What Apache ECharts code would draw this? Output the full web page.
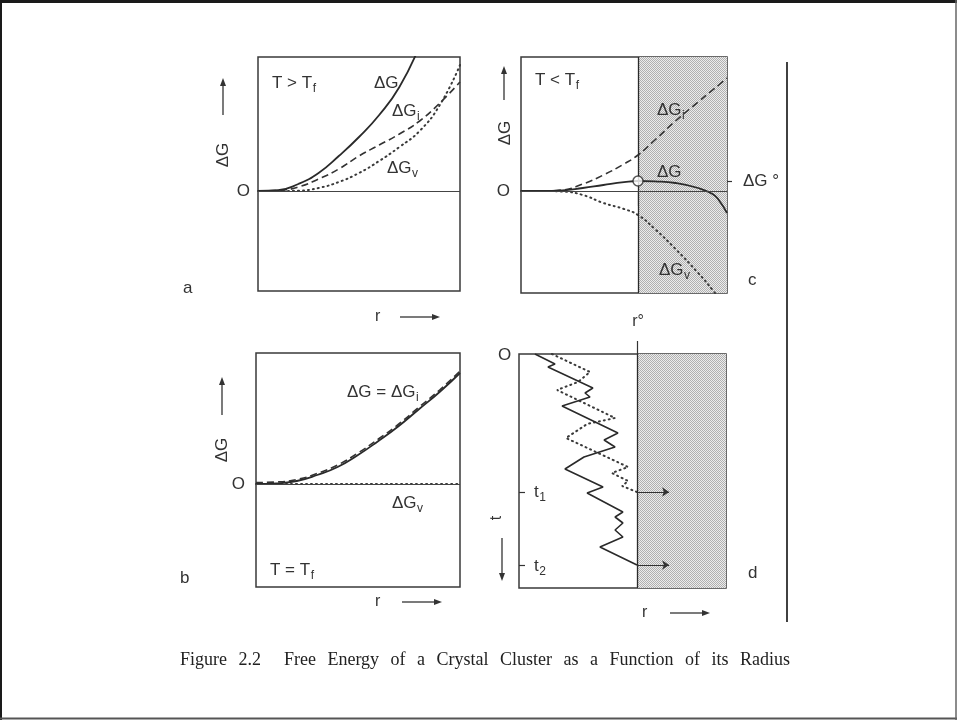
<!DOCTYPE html>
<html>
<head>
<meta charset="UTF-8">
<title>Free Energy of a Crystal Cluster</title>
<style>html,body{margin:0;padding:0;background:#fff;}</style>
</head>
<body>
<div id="main" style="width:957px;height:720px;"></div>
<script src="https://cdn.jsdelivr.net/npm/echarts@6/dist/echarts.min.js"></script>
<script>
// ---- data (r scaled 0..1, energies in arbitrary units) ----
// panel a : T > Tf
var rA   = [0, 0.1, 0.2, 0.3, 0.4, 0.5, 0.6, 0.7, 0.8, 0.9, 1.0];
var gA   = [0, 0.8, 7, 18, 35, 54, 76, 104, 145];          // ΔG (leaves the box at top)
var giA  = [0, 0.5, 4, 12, 22, 35, 46, 57, 70, 88, 109];   // ΔGi
var gvA  = [0, 0, 0.3, 3, 9, 18, 30, 44, 60, 86, 126];     // ΔGv

// panel b : T = Tf
var rB   = [0, 0.1, 0.2, 0.3, 0.4, 0.5, 0.6, 0.7, 0.8, 0.9, 1.0];
var gB   = [0, 0.5, 3, 9, 17, 29, 43, 58, 75, 92, 111];
var giB  = [1.5, 2, 4.5, 10.5, 19, 31, 45, 60, 77, 94, 113];
var gvB  = [0, 0, 0, 0, 0, 0, 0, 0, 0, 0, 0];

// panel c : T < Tf
var rC   = [0, 0.1, 0.2, 0.3, 0.4, 0.5, 0.568, 0.65, 0.75, 0.86, 0.93, 0.96, 1.0];
var gC   = [0, 0, 0.5, 3, 6, 8.8, 10, 9.6, 8, 3, -3, -9, -22];
var giC  = [0, 0, 1, 7, 16, 27, 36, 51, 70, 89, 101, 106, 113];
var gvC  = [0, 0, -0.5, -4, -12, -18, -24, -38, -58, -82, -99, -108, -130];
var rCrit = 0.568;   // r°
var gCrit = 10;      // ΔG°

// panel d : random walk of cluster size in time (t downwards)
var rWalk   = [0.077, 0.174, 0.140, 0.357, 0.319, 0.343, 0.208, 0.478, 0.411, 0.464, 0.314,
               0.222, 0.406, 0.329, 0.502, 0.464, 0.502, 0.464, 0.502, 0.391, 0.570];
var tWalk   = [0, 10, 13, 34, 39, 43, 52, 79, 86, 93, 103, 115, 133, 139, 158, 163, 169, 176, 183, 193, 211];
var rWalk2  = [0.159, 0.343, 0.285, 0.184, 0.464, 0.329, 0.227, 0.527, 0.449, 0.527, 0.498, 0.570];
var tWalk2  = [0, 18, 28, 36, 64, 70, 84, 113, 119, 127, 132, 138];
var rCritD = 0.57, rArrow = 0.725;
var t1 = 138, t2 = 211;

var capWords = ['Figure', '2.2', 'Free', 'Energy', 'of', 'a', 'Crystal', 'Cluster', 'as', 'a', 'Function', 'of', 'its', 'Radius'];

// ---- styles ----
var INK = '#333';
var FONT = '"Liberation Sans", Arial, sans-serif';
var SERIF = '"Liberation Serif", "Times New Roman", serif';
var SOLID = {color: '#2a2a2a', width: 1.8, type: 'solid'};
var DASH  = {color: '#333', width: 1.6, type: [7, 4]};
var DOT   = {color: '#3a3a3a', width: 2, type: [1, 4], cap: 'round'};

function pairs(xs, ys) { return ys.map(function (y, i) { return [xs[i], y]; }); }

// dotted grey screen for the region r > r°
var pc = document.createElement('canvas');
pc.width = 2; pc.height = 2;
var pg = pc.getContext('2d');
pg.fillStyle = '#ececec'; pg.fillRect(0, 0, 2, 2);
pg.fillStyle = '#b0b0b0'; pg.fillRect(0, 0, 1, 1); pg.fillRect(1, 1, 1, 1);
var SCREEN = {image: pc, repeat: 'repeat'};

var mctx = document.createElement('canvas').getContext('2d');
function measure(s, size, fam) { mctx.font = size + 'px ' + (fam || FONT); return mctx.measureText(s).width; }

function txt(x, y, s, size, extra) {
  var el = {type: 'text', x: x, y: y, z: 50,
    style: {text: s, fontSize: size, fontFamily: FONT, fill: INK,
            textAlign: 'left', align: 'left', textVerticalAlign: 'middle', verticalAlign: 'middle'}};
  if (extra) {
    for (var k in extra) {
      if (k === 'style') { for (var j in extra.style) el.style[j] = extra.style[j]; }
      else el[k] = extra[k];
    }
  }
  return el;
}
function sublabel(x, y, main, sub, size) {
  var w = measure(main, size);
  return [txt(x, y, main, size), txt(x + w + 0.5, y + size * 0.32, sub, Math.round(size * 0.68))];
}
function rotated(x, y, s, size) {
  return txt(x, y, s, size, {rotation: Math.PI / 2, style: {textAlign: 'center', align: 'center'}});
}
function arrow(x1, y1, x2, y2) {
  var dx = x2 - x1, dy = y2 - y1, L = Math.sqrt(dx * dx + dy * dy), ux = dx / L, uy = dy / L;
  var hl = 8, hw = 3;
  var bx = x2 - ux * hl, by = y2 - uy * hl;
  return [
    {type: 'line', z: 50, shape: {x1: x1, y1: y1, x2: bx, y2: by}, style: {stroke: INK, lineWidth: 1.3}},
    {type: 'polygon', z: 50, shape: {points: [[x2, y2], [bx - uy * hw, by + ux * hw], [bx + uy * hw, by - ux * hw]]},
     style: {fill: INK}}
  ];
}

// ---- layout ----
var grids = [
  {left: 258, top: 57,  width: 202, height: 234},   // a
  {left: 521, top: 57,  width: 206, height: 236},   // c
  {left: 256, top: 353, width: 204, height: 234},   // b
  {left: 519, top: 354, width: 207, height: 234}    // d
].map(function (g) {
  g.show = true; g.borderColor = '#3a3a3a'; g.borderWidth = 1.5;
  g.backgroundColor = 'transparent'; g.containLabel = false; g.outerBoundsMode = 'none';
  return g;
});

function hiddenAxis(extra) {
  var a = {type: 'value', axisLine: {show: false}, axisTick: {show: false},
           axisLabel: {show: false}, splitLine: {show: false}};
  for (var k in extra) a[k] = extra[k];
  return a;
}
var labelStyle = {color: INK, fontFamily: FONT, fontSize: 17};
var tickStyle = {color: INK, width: 1.2};

function zeroLabelAxis(grid, min, max, margin) {
  return hiddenAxis({gridIndex: grid, min: min, max: max,
    axisLabel: Object.assign({show: true, customValues: [0], margin: margin,
      formatter: function () { return 'O'; }}, labelStyle)});
}

var xAxes = [
  hiddenAxis({gridIndex: 0, min: 0, max: 1}),
  hiddenAxis({gridIndex: 1, min: 0, max: 1,
    axisTick: {show: true, customValues: [rCrit], length: 15, inside: false, lineStyle: tickStyle},
    axisLabel: Object.assign({show: true, customValues: [rCrit], margin: 21,
      formatter: function () { return 'r°'; }}, labelStyle, {fontSize: 16})}),
  hiddenAxis({gridIndex: 2, min: 0, max: 1}),
  hiddenAxis({gridIndex: 3, min: 0, max: 1, position: 'top',
    axisTick: {show: true, customValues: [rCritD], length: 13, inside: false, lineStyle: tickStyle}})
];
var yAxes = [
  zeroLabelAxis(0, -100, 134, 8),
  zeroLabelAxis(1, -102, 134, 11),
  zeroLabelAxis(2, -103, 131, 11),
  hiddenAxis({gridIndex: 3, min: 0, max: 234, inverse: true,
    axisTick: {show: true, customValues: [t1, t2], length: 6, inside: true, lineStyle: tickStyle}}),
  hiddenAxis({gridIndex: 1, min: -102, max: 134, position: 'right',
    axisTick: {show: true, customValues: [gCrit], length: 5, inside: false, lineStyle: tickStyle},
    axisLabel: Object.assign({show: true, customValues: [gCrit], margin: 16,
      formatter: function () { return 'ΔG °'; }}, labelStyle)})
];

function curve(idx, xs, ys, ls, extra) {
  var s = {type: 'line', xAxisIndex: idx, yAxisIndex: idx, data: pairs(xs, ys),
           showSymbol: false, symbol: 'none', smooth: 0.5, lineStyle: ls, z: 3, silent: true, clip: true};
  if (extra) for (var k in extra) s[k] = extra[k];
  return s;
}
function zeroLine(idx) {
  return {type: 'line', xAxisIndex: idx, yAxisIndex: idx, data: [], z: 2, silent: true,
    markLine: {silent: true, symbol: 'none', label: {show: false},
      lineStyle: {color: '#444', width: 1.1, type: 'solid'}, data: [{yAxis: 0}]}};
}
function screen(idx, r0) {
  return {type: 'line', xAxisIndex: idx, yAxisIndex: idx, data: [], z: 1, silent: true,
    markArea: {silent: true, itemStyle: {color: SCREEN, opacity: 1}, data: [[{xAxis: r0}, {xAxis: 1}]]},
    markLine: {silent: true, symbol: 'none', label: {show: false},
      lineStyle: {color: '#2a2a2a', width: 1.3, type: 'solid'}, data: [{xAxis: r0}]}};
}

var series = [
  // a
  zeroLine(0),
  curve(0, rA, gvA, DOT),
  curve(0, rA, giA, DASH),
  curve(0, rA, gA, SOLID),
  // c
  screen(1, rCrit),
  zeroLine(1),
  curve(1, rC, gvC, DOT),
  curve(1, rC, giC, DASH),
  curve(1, rC, gC, SOLID),
  {type: 'scatter', xAxisIndex: 1, yAxisIndex: 1, data: [[rCrit, gCrit]], symbolSize: 10, z: 6, silent: true,
   itemStyle: {color: '#fff', borderColor: '#2a2a2a', borderWidth: 1.5}},
  // b
  zeroLine(2),
  curve(2, rB, gvB, DOT),
  curve(2, rB, giB, DASH),
  curve(2, rB, gB, SOLID),
  // d
  screen(3, rCritD),
  curve(3, rWalk2, tWalk2, DOT, {smooth: false}),
  curve(3, rWalk, tWalk, {color: '#2a2a2a', width: 1.6, type: 'solid'}, {smooth: false}),
  {type: 'line', xAxisIndex: 3, yAxisIndex: 3, data: [], z: 4, silent: true,
   markLine: {silent: true, symbol: ['none', 'arrow'], symbolSize: 7, label: {show: false},
     lineStyle: {color: '#333', width: 1.2, type: 'solid'},
     data: [[{coord: [rCritD, t1]}, {coord: [rArrow, t1]}],
            [{coord: [rCritD, t2]}, {coord: [rArrow, t2]}]]}}
];

// ---- annotations ----
var G = [];
function add(a) { G = G.concat(a); }
// page frame and the scan's vertical rule
add([
  {type: 'line', shape: {x1: 0, y1: 1.5, x2: 957, y2: 1.5}, style: {stroke: '#1a1a1a', lineWidth: 3}},
  {type: 'line', shape: {x1: 1, y1: 0, x2: 1, y2: 720}, style: {stroke: '#1a1a1a', lineWidth: 2}},
  {type: 'line', shape: {x1: 0, y1: 718.5, x2: 957, y2: 718.5}, style: {stroke: '#555', lineWidth: 2}},
  {type: 'line', shape: {x1: 956, y1: 0, x2: 956, y2: 720}, style: {stroke: '#666', lineWidth: 1.5}},
  {type: 'line', shape: {x1: 787, y1: 62, x2: 787, y2: 622}, style: {stroke: '#111', lineWidth: 1.6}}
]);
// axis names and arrows
add(rotated(223, 155, 'ΔG', 17)); add(arrow(223, 115, 223, 78));
add(rotated(505, 133, 'ΔG', 17)); add(arrow(504, 100, 504, 66));
add(rotated(222, 450, 'ΔG', 17)); add(arrow(222, 415, 222, 377));
add(txt(375, 317, 'r', 16)); add(arrow(400, 317, 440, 317));
add(txt(375, 602, 'r', 16)); add(arrow(402, 602, 442, 602));
add(txt(642, 613, 'r', 16)); add(arrow(670, 613, 710, 613));
add(rotated(497, 518, 't', 16)); add(arrow(502, 538, 502, 581));
add(txt(498, 355, 'O', 17));
// panel letters
add(txt(183, 288, 'a', 17)); add(txt(180, 578, 'b', 17));
add(txt(748, 280, 'c', 17)); add(txt(748, 573, 'd', 17));
// curve labels
add(sublabel(272, 83, 'T > T', 'f', 17));
add(txt(374, 83, 'ΔG', 17));
add(sublabel(392, 111, 'ΔG', 'i', 17));
add(sublabel(387, 168, 'ΔG', 'v', 17));
add(sublabel(535, 80, 'T < T', 'f', 17));
add(sublabel(657, 110, 'ΔG', 'i', 17));
add(txt(657, 172, 'ΔG', 17));
add(sublabel(659, 270, 'ΔG', 'v', 17));
add(sublabel(347, 392, 'ΔG = ΔG', 'i', 17));
add(sublabel(392, 503, 'ΔG', 'v', 17));
add(sublabel(270, 570, 'T = T', 'f', 17));
add(sublabel(534, 492, 't', '1', 17));
add(sublabel(534, 566, 't', '2', 17));
// caption: words spread evenly between x=180 and x=790, wider gap after "2.2"
(function () {
  var size = 18, x0 = 180, x1 = 790;
  var widths = capWords.map(function (w) { return measure(w, size, SERIF); });
  var total = widths.reduce(function (a, b) { return a + b; }, 0);
  var gap = (x1 - x0 - total) / (capWords.length);   // one extra gap unit after "2.2"
  var x = x0;
  capWords.forEach(function (w, i) {
    add(txt(x, 660, w, size, {style: {fontFamily: SERIF, fill: '#222'}}));
    x += widths[i] + gap * (i === 1 ? 2 : 1);
  });
})();

var chart = echarts.init(document.getElementById('main'), null, {renderer: 'canvas'});
chart.setOption({
  animation: false,
  backgroundColor: '#fff',
  textStyle: {fontFamily: FONT},
  grid: grids,
  xAxis: xAxes,
  yAxis: yAxes,
  series: series,
  graphic: {elements: G}
});
</script>
</body>
</html>
